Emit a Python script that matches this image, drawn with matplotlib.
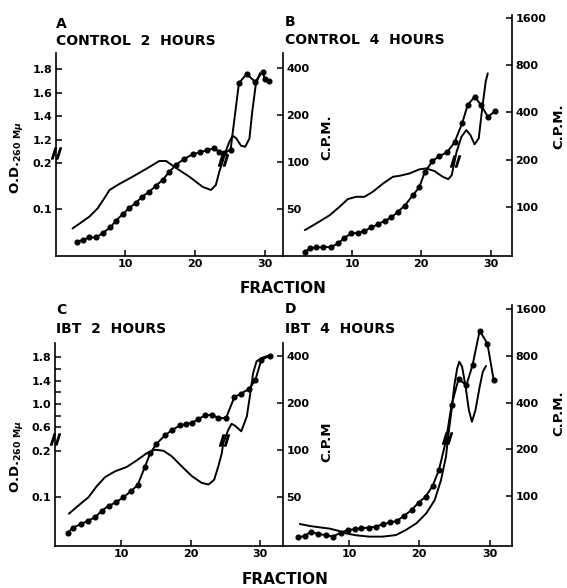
"""Sucrose gradient profiles: O.D. and C.P.M. per fraction, control vs IBT."""

import numpy as np
import matplotlib

matplotlib.use("Agg")
import matplotlib.pyplot as plt  # noqa: E402
from matplotlib.ticker import NullLocator  # noqa: E402

W, H = 567, 588

# ---- data ---------------------------------------------------------------
frac_ticks = [10, 20, 30]

od_ticks_a = [0.1, 0.2, 1.2, 1.4, 1.6, 1.8]
od_labels_a = ["0.1", "0.2", "1.2", "1.4", "1.6", "1.8"]
od_ticks_c = [0.1, 0.2, 0.6, 0.8, 1.0, 1.2, 1.4, 1.6, 1.8]
od_labels_c = ["0.1", "0.2", "0.6", "", "1.0", "", "1.4", "", "1.8"]
cpm_inner_ticks = [50, 100, 200, 400]
cpm_outer_ticks = [100, 200, 400, 800, 1600]

# A: control 2 h
a_smooth_frac = [2.5, 4.9, 6.1, 7.05, 7.8, 8.95, 11.1, 13.2, 14.9, 15.9, 17.05,
                 19.2, 21.1, 22.3, 23.0, 23.5, 24.0, 24.4, 24.9, 25.4, 25.9,
                 26.6, 27.2, 27.8, 28.2, 28.7, 29.3]
a_smooth_od = [0.075, 0.0895, 0.1015, 0.118, 0.1335, 0.144, 0.163, 0.185, 0.206,
               0.206, 0.189, 0.163, 0.140, 0.1335, 0.144, 0.176, 0.206, 1.098,
               1.178, 1.234, 1.212, 1.149, 1.14, 1.21, 1.438, 1.664, 1.764]
a_dots_frac = [3.1, 4.0, 4.9, 5.9, 6.8, 7.9, 8.7, 9.7, 10.6, 11.6, 12.5, 13.5,
               14.4, 15.4, 16.3, 17.3, 18.4, 19.7, 20.8, 21.8, 22.8, 23.5, 24.2,
               25.1, 26.3, 27.4, 28.6, 29.7, 30.0, 30.6]
a_dots_cpm = [30.5, 31.5, 32.6, 32.6, 34.8, 37.8, 41.7, 46.1, 50.3, 54.6, 59.7,
              64.2, 69.9, 76.3, 85.5, 95.3, 103.6, 111.5, 114.9, 118.8, 121.9,
              114.9, 114.2, 118.8, 318, 365, 325, 377, 339, 329]

# B: control 4 h
b_smooth_frac = [3.2, 4.85, 6.8, 8.2, 9.4, 10.6, 11.8, 13.0, 14.5, 15.9, 16.9,
                 18.3, 19.7, 20.7, 21.9, 23.1, 23.9, 24.4, 24.8, 25.1, 25.8,
                 26.5, 27.1, 27.7, 28.3, 28.8, 29.3, 29.6]
b_smooth_cpm = [71, 78.4, 88.5, 100, 112, 115.8, 115.8, 124.6, 140.8, 155.3,
                157.6, 163, 173, 175.6, 168.9, 155.3, 150, 159, 193.5, 224, 279,
                308, 286, 250, 273, 424, 626, 708]
b_dots_frac = [3.2, 3.9, 4.85, 5.8, 7.0, 8.0, 8.9, 9.9, 10.9, 11.8, 12.8, 13.7,
               14.7, 15.7, 16.6, 17.6, 18.8, 19.7, 20.5, 21.6, 22.6, 23.7, 24.8,
               25.9, 26.7, 27.7, 28.65, 29.6, 30.7]
b_dots_cpm = [51.7, 54.3, 55.1, 55.3, 55.6, 58.4, 63.4, 67.7, 68.3, 70.3, 73.9,
              77.2, 81.4, 85.6, 92.9, 101.5, 118.7, 132.9, 165.6, 195.5, 210.4,
              222, 257, 340, 444.5, 502, 444.5, 374.5, 407]

# C: IBT 2 h
c_smooth_frac = [2.5, 4.3, 5.3, 6.5, 7.7, 9.1, 10.8, 12.25, 13.7, 14.9, 16.1,
                 17.3, 18.7, 20.2, 21.6, 22.6, 23.4, 24.0, 24.5, 24.7, 25.4,
                 25.9, 26.4, 27.3, 28.1, 28.6, 29.0, 29.5, 30.2, 31.2]
c_smooth_od = [0.0784, 0.0919, 0.1, 0.118, 0.135, 0.147, 0.157, 0.173, 0.193,
               0.203, 0.2, 0.184, 0.159, 0.137, 0.124, 0.121, 0.13, 0.159, 0.193,
               0.224, 0.549, 0.661, 0.627, 0.532, 0.788, 1.186, 1.528, 1.728,
               1.785, 1.824]
c_dots_frac = [2.3, 3.1, 4.2, 5.2, 6.3, 7.2, 8.2, 9.3, 10.3, 11.4, 12.4, 13.4,
               14.2, 15.1, 16.3, 17.4, 18.5, 19.3, 20.2, 21.1, 22.1, 23.1, 24.0,
               25.1, 26.3, 27.2, 28.4, 29.3, 30.2, 31.4]
c_dots_cpm = [29.4, 31.9, 33.5, 35.2, 37.2, 40.8, 43.9, 46.4, 49.8, 54.4, 59.9,
              77.5, 95.8, 109.9, 124.4, 135.2, 144.3, 147.1, 149.3, 158.4, 167.3,
              168.8, 160.7, 160.7, 219, 230, 246.7, 280.6, 380.5, 403.6]

# D: IBT 4 h
d_smooth_frac = [3.0, 4.4, 5.8, 7.25, 8.4, 9.6, 11.0, 12.9, 14.8, 16.7, 18.1,
                 19.6, 21.0, 22.2, 23.1, 23.8, 24.2, 24.6, 25.0, 25.4, 25.7,
                 26.1, 26.6, 27.06, 27.5, 28.0, 28.6, 29.05, 29.5]
d_smooth_cpm = [66.0, 64.1, 62.8, 61.6, 59.8, 57.4, 55.8, 54.7, 54.7, 56.0, 60.4,
                66.7, 77.3, 94.2, 126.8, 179, 260, 358, 519, 665, 734, 681, 506,
                358, 301, 358, 506, 633, 689]
d_dots_frac = [2.7, 3.7, 4.6, 5.6, 6.7, 7.7, 8.8, 9.85, 10.8, 11.75, 12.8, 13.8,
               14.8, 15.9, 16.8, 17.8, 18.9, 19.9, 20.9, 21.9, 22.8, 23.8, 24.6,
               25.6, 26.7, 27.6, 28.6, 29.7, 30.6]
d_dots_cpm = [54.1, 55.2, 58.9, 56.9, 56.0, 54.7, 58.0, 60.4, 61.0, 61.9, 62.5,
              63.4, 65.7, 67.6, 69.0, 74.3, 81.2, 90.6, 99.0, 116, 147, 227, 386,
              570, 517, 702, 1163, 959, 557]

# where the curves jump across the broken scale
curve_breaks = {"A": (23.95, 0.21), "B": (24.8, 196), "C": (24.8, 0.235), "D": (23.9, 235)}

# ---- style ----------------------------------------------------------------
plt.rcParams["font.family"] = ["DejaVu Sans"]
plt.rcParams["font.weight"] = "bold"
LW = 1.4
MS = 3.4
TICK = dict(direction="in", length=4.5, width=1.1, labelsize=8, pad=2.5)


def broken_scale(lo_ref, lo_h, lo_px, hi_ref, hi_h, hi_px, b0, b1):
    """Log below b0, linear above b1, squeezed in between (broken O.D. axis)."""
    h0 = lo_h + lo_px * np.log2(b0 / lo_ref)
    h1 = hi_h + hi_px * (b1 - hi_ref)

    def fwd(v):
        v = np.asarray(v, dtype=float)
        low = lo_h + lo_px * np.log2(np.clip(v, 1e-6, None) / lo_ref)
        mid = h0 + (v - b0) * (h1 - h0) / (b1 - b0)
        high = hi_h + hi_px * (v - hi_ref)
        return np.where(v <= b0, low, np.where(v >= b1, high, mid))

    def inv(h):
        h = np.asarray(h, dtype=float)
        low = lo_ref * 2 ** ((h - lo_h) / lo_px)
        mid = b0 + (h - h0) * (b1 - b0) / (h1 - h0)
        high = hi_ref + (h - hi_h) / hi_px
        return np.where(h <= h0, low, np.where(h >= h1, high, mid))

    return fwd, inv


def rect(x0, x1, top, bottom):
    return [x0 / W, 1 - bottom / H, (x1 - x0) / W, (bottom - top) / H]


def fig_text(fig, x, y, s, **kw):
    fig.text(x / W, 1 - y / H, s, fontweight="bold", **kw)


def od_panel(fig, box, xlim, ylim, scale, ticks, labels, axis_break,
             smooth, dots, cpm_lim, brk, cpm_label_xy, od_label_xy):
    ax = fig.add_axes(box, zorder=2)
    ax.patch.set_visible(False)
    ax.set_yscale("function", functions=scale)
    ax.set_xlim(*xlim)
    ax.set_ylim(*ylim)
    ax.plot(*smooth, color="black", lw=LW, solid_capstyle="round")
    ax.plot(*brk, ls="none", marker="$//$", ms=8, color="black")
    ax.set_yticks(ticks, labels)
    ax.yaxis.set_minor_locator(NullLocator())
    ax.set_xticks(frac_ticks, [str(t) for t in frac_ticks])
    ax.tick_params(**TICK)
    ax.spines[["top", "right"]].set_visible(False)
    for s in ax.spines.values():
        s.set_linewidth(1.2)
    ax.plot([0], [axis_break], transform=ax.get_yaxis_transform(), clip_on=False,
            ls="none", marker="$//$", ms=8, color="black")
    ax.set_ylabel(r"O.D.$_{\mathbf{260\ M}\mu}$", fontsize=9.5, fontweight="bold",
                  ha="center", va="center")
    ax.yaxis.set_label_coords(*od_label_xy)

    tw = ax.twinx()
    tw.patch.set_visible(False)
    tw.set_yscale("log")
    tw.set_ylim(*cpm_lim)
    tw.plot(*dots, color="black", lw=LW, marker="o", ms=MS)
    tw.set_yticks(cpm_inner_ticks, [str(t) for t in cpm_inner_ticks])
    tw.yaxis.set_minor_locator(NullLocator())
    tw.tick_params(**TICK)
    for name, s in tw.spines.items():
        s.set_visible(name == "right")
        s.set_linewidth(1.2)
    tw.set_ylabel(cpm_label_xy[2], fontsize=9.5, fontweight="bold",
                  rotation=90, ha="center", va="center")
    tw.yaxis.set_label_coords(cpm_label_xy[0], cpm_label_xy[1])
    return ax


def cpm_panel(fig, box, xlim, ylim, smooth, dots, brk, label_xy):
    ax = fig.add_axes(box, zorder=1)
    ax.patch.set_visible(False)
    ax.set_yscale("log")
    ax.set_xlim(*xlim)
    ax.set_ylim(*ylim)
    ax.plot(*smooth, color="black", lw=LW, solid_capstyle="round")
    ax.plot(*dots, color="black", lw=LW, marker="o", ms=MS)
    ax.plot(*brk, ls="none", marker="$//$", ms=8, color="black")
    ax.yaxis.tick_right()
    ax.yaxis.set_label_position("right")
    ax.set_yticks(cpm_outer_ticks, [str(t) for t in cpm_outer_ticks])
    ax.yaxis.set_minor_locator(NullLocator())
    ax.set_xticks(frac_ticks, [str(t) for t in frac_ticks])
    ax.tick_params(**TICK)
    ax.spines[["top", "left"]].set_visible(False)
    for s in ax.spines.values():
        s.set_linewidth(1.2)
    ax.set_ylabel("C.P.M.", fontsize=9.5, fontweight="bold", rotation=90,
                  ha="center", va="center")
    ax.yaxis.set_label_coords(*label_xy)
    return ax


def main():
    fig = plt.figure(figsize=(W / 100, H / 100), dpi=100)

    ax_a = od_panel(
        fig, rect(56, 283, 53, 256), (0.14, 32.6), (0.0497, 1.936),
        broken_scale(0.1, 46.7, 46.3, 1.2, 116.3, 117.8, 0.23, 1.10),
        od_ticks_a, od_labels_a, 0.5,
        (a_smooth_frac, a_smooth_od), (a_dots_frac, a_dots_cpm), (24.8, 497),
        curve_breaks["A"], (1.194, 0.586, "C.P.M."), (-0.172, 0.483))
    ax_a.set_xlabel("FRACTION", fontsize=11, fontweight="bold", va="center")
    ax_a.xaxis.set_label_coords(1.0, -0.158)

    cpm_panel(fig, rect(283, 512, 15, 256), (0.04, 33.1), (48.6, 1665),
              (b_smooth_frac, b_smooth_cpm), (b_dots_frac, b_dots_cpm),
              curve_breaks["B"], (1.205, 0.539))

    ax_c = od_panel(
        fig, rect(55, 283, 343, 546), (0.5, 33.3), (0.0485, 2.041),
        broken_scale(0.1, 48.7, 46.6, 0.6, 118.7, 58.5, 0.235, 0.43),
        od_ticks_c, od_labels_c, 0.33,
        (c_smooth_frac, c_smooth_od), (c_dots_frac, c_dots_cpm), (24.3, 487),
        curve_breaks["C"], (1.193, 0.512, "C.P.M"), (-0.17, 0.44))
    ax_c.set_xlabel("FRACTION", fontsize=11, fontweight="bold", va="center")
    ax_c.xaxis.set_label_coords(1.009, -0.167)

    cpm_panel(fig, rect(283, 512, 305, 546), (0.61, 33.2), (47.6, 1703),
              (d_smooth_frac, d_smooth_cpm), (d_dots_frac, d_dots_cpm),
              curve_breaks["D"], (1.205, 0.552))

    fig_text(fig, 56, 28, "A", fontsize=10)
    fig_text(fig, 56, 45, "CONTROL  2  HOURS", fontsize=10)
    fig_text(fig, 285, 26, "B", fontsize=10)
    fig_text(fig, 285, 44, "CONTROL  4  HOURS", fontsize=10)
    fig_text(fig, 56, 314, "C", fontsize=10)
    fig_text(fig, 56, 333, "IBT  2  HOURS", fontsize=10)
    fig_text(fig, 285, 313, "D", fontsize=10)
    fig_text(fig, 285, 333, "IBT  4  HOURS", fontsize=10)

    fig.savefig("out.png", dpi=100)
    plt.close(fig)


if __name__ == "__main__":
    main()
